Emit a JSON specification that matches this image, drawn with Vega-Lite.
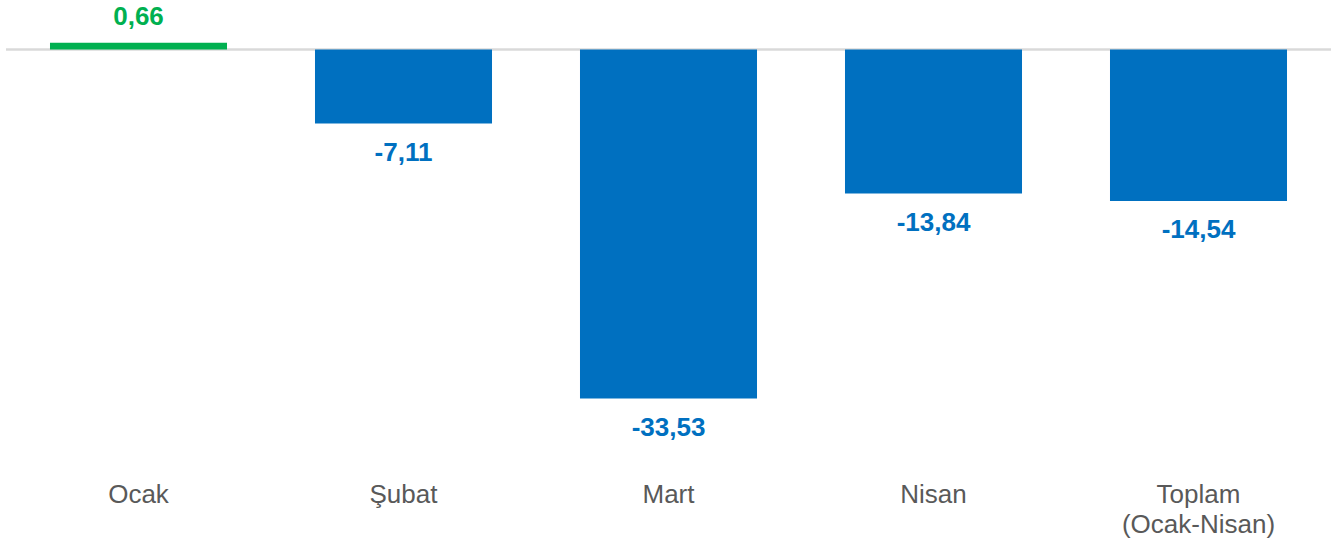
{
  "$schema": "https://vega.github.io/schema/vega-lite/v6.json",
  "width": 1325,
  "height": 470,
  "autosize": {"type": "none"},
  "padding": {"left": 6, "right": 7, "top": 0, "bottom": 77},
  "background": "white",
  "config": {
    "view": {"stroke": null},
    "font": "Liberation Sans",
    "locale": {"number": {"decimal": ",", "thousands": ".", "grouping": [3], "currency": ["", " TL"], "minus": "-"}}
  },
  "data": {"values": [
    {"month": "Ocak", "value": 0.66},
    {"month": "Şubat", "value": -7.11},
    {"month": "Mart", "value": -33.53},
    {"month": "Nisan", "value": -13.84},
    {"month": "Toplam\n(Ocak-Nisan)", "value": -14.54}
  ]},
  "encoding": {
    "x": {
      "field": "month", "type": "nominal", "sort": null, "title": null,
      "scale": {"paddingInner": 0.332, "paddingOuter": 0.166},
      "axis": {
        "domain": false, "ticks": false, "labelAngle": 0, "labelPadding": 11,
        "labelFontSize": 26, "labelColor": "#595959", "labelFont": "Liberation Sans",
        "labelLineHeight": 30, "labelExpr": "split(datum.label, '\\n')"
      }
    }
  },
  "layer": [
    {
      "mark": {"type": "rule", "stroke": "#D9D9D9", "strokeWidth": 1.5},
      "encoding": {"x": null, "y": {"datum": 0, "type": "quantitative", "scale": {"domain": [-40.39, 4.755], "nice": false, "zero": false}, "axis": null}}
    },
    {
      "mark": {"type": "bar"},
      "encoding": {
        "y": {"field": "value", "type": "quantitative", "scale": {"domain": [-40.39, 4.755], "nice": false, "zero": false}, "axis": null},
        "y2": {"datum": 0},
        "color": {"condition": {"test": "datum.value >= 0", "value": "#00B050"}, "value": "#0070C0"}
      }
    },
    {
      "transform": [{"filter": "datum.value < 0"}],
      "mark": {"type": "text", "baseline": "middle", "dy": 29, "fontSize": 26, "fontWeight": "bold", "color": "#0070C0"},
      "encoding": {
        "y": {"field": "value", "type": "quantitative"},
        "text": {"field": "value", "type": "quantitative", "format": ".2f"}
      }
    },
    {
      "transform": [{"filter": "datum.value >= 0"}],
      "mark": {"type": "text", "baseline": "middle", "dy": -26, "fontSize": 26, "fontWeight": "bold", "color": "#00B050"},
      "encoding": {
        "y": {"field": "value", "type": "quantitative"},
        "text": {"field": "value", "type": "quantitative", "format": ".2f"}
      }
    }
  ]
}
